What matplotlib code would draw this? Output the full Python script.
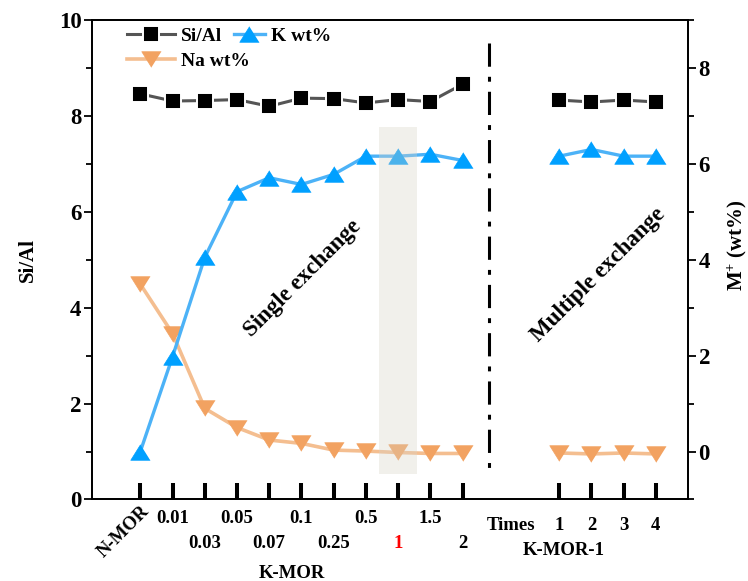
import numpy as np
import matplotlib
matplotlib.use('Agg')
import matplotlib.pyplot as plt
from matplotlib.patches import Rectangle
from matplotlib.ticker import MultipleLocator

# Si/Al ratio and cation loading of mordenite after K+ exchange.
single_labels = ['N-MOR', '0.01', '0.03', '0.05', '0.07', '0.1', '0.25', '0.5', '1', '1.5', '2']
multi_labels = ['1', '2', '3', '4']

si_al_single = [8.46, 8.31, 8.32, 8.34, 8.20, 8.37, 8.36, 8.27, 8.34, 8.30, 8.66]
si_al_multi = [8.33, 8.29, 8.33, 8.29]
k_single = [0.0, 1.98, 4.05, 5.42, 5.71, 5.57, 5.78, 6.16, 6.16, 6.20, 6.07]
k_multi = [6.16, 6.30, 6.16, 6.16]
na_single = [3.49, 2.46, 0.90, 0.50, 0.24, 0.17, 0.03, 0.01, -0.02, -0.04, -0.04]
na_multi = [-0.03, -0.05, -0.03, -0.05]

plt.rcParams['font.family'] = 'Liberation Serif'
plt.rcParams['font.weight'] = 'bold'
plt.rcParams['axes.labelweight'] = 'bold'
plt.rcParams['mathtext.fontset'] = 'custom'
plt.rcParams['mathtext.rm'] = 'Liberation Serif:bold'
plt.rcParams['mathtext.bf'] = 'Liberation Serif:bold'
plt.rcParams['mathtext.it'] = 'Liberation Serif:bold:italic'
plt.rcParams['axes.linewidth'] = 1.3

GRAY = '#555555'
BLUE = '#00a0ff'
BLUE_LINE = '#4cb2f7'
ORANGE = '#f2a261'
ORANGE_LINE = '#f4be90'
TRI_UP = [(0, 0.8), (-1, -0.8), (1, -0.8)]
TRI_DOWN = [(0, -0.8), (-1, 0.8), (1, 0.8)]

x_single = np.arange(len(single_labels))
x_multi = np.arange(len(multi_labels)) + 13

fig = plt.figure(figsize=(7.48, 5.81), dpi=100)
ax = fig.add_axes([0.123, 0.1403, 0.797, 0.8253])
ax2 = ax.twinx()

# Si/Al on the left axis
sq = dict(color=GRAY, lw=2.2, marker='s', ms=11.5, mfc='black', mec='white', mew=1.4)
h_si, = ax.plot(x_single, si_al_single, label='Si/Al', **sq)
ax.plot(x_multi, si_al_multi, **sq)

# K and Na content on the right axis
na = dict(color=ORANGE_LINE, lw=2.6, marker=TRI_DOWN, ms=14, mfc=ORANGE, mec=ORANGE, mew=0.5)
kk = dict(color=BLUE_LINE, lw=2.4, marker=TRI_UP, ms=14, mfc=BLUE, mec=BLUE, mew=0.5)
h_na, = ax2.plot(x_single, na_single, label='Na wt%', **na)
ax2.plot(x_multi, na_multi, **na)
h_k, = ax2.plot(x_single, k_single, label='K wt%', **kk)
ax2.plot(x_multi, k_multi, **kk)

# highlight the K-MOR-1 sample
ax2.add_patch(Rectangle((7.4, -0.47), 1.19, 7.24, facecolor='#d8d4c8', edgecolor='none',
                        alpha=0.35, zorder=5))

# separator between single and multiple exchange
ax.plot([10.82, 10.82], [9.51, 0.6], color='black', lw=2.2,
        linestyle=(0, (7.6, 3.3, 1.6, 3.3)))

ax.text(5.03, 4.61, 'Single exchange', rotation=45, ha='center', va='center', fontsize=16.5)
ax.text(14.21, 4.68, 'Multiple exchange', rotation=45, ha='center', va='center', fontsize=16.5)

ax.set_xlim(-1.5, 17)
ax.set_ylim(0, 10)
ax2.set_ylim(-1, 9)

ax.yaxis.set_major_locator(MultipleLocator(2))
ax.yaxis.set_minor_locator(MultipleLocator(1))
ax2.yaxis.set_major_locator(MultipleLocator(2))
ax2.yaxis.set_minor_locator(MultipleLocator(1))
ax2.set_yticks([0, 2, 4, 6, 8])

for a in (ax, ax2):
    a.tick_params(axis='y', which='major', direction='out', length=6, width=1.3,
                  labelsize=16.5, pad=1.5)
    a.tick_params(axis='y', which='minor', direction='out', length=4.5, width=1.3)

ax.set_xticks(np.concatenate([x_single, x_multi]))
ax.tick_params(axis='x', direction='in', length=11.5, width=2.9, labelbottom=False)

ax.set_ylabel('Si/Al', fontsize=15)
ax.yaxis.set_label_coords(-0.09, 0.5)
ax2.set_ylabel('M$^{+}$ (wt%)', fontsize=15)
ax2.yaxis.set_label_coords(1.063, 0.53)

# category labels below the axis, staggered on two rows
xt = ax.get_xaxis_transform()
for i, lab in enumerate(single_labels):
    if i == 0:
        ax.text(-0.53, -0.068, lab, transform=xt, rotation=45, ha='center', va='center',
                fontsize=13.5)
        continue
    y = -0.049 if i % 2 == 1 else -0.101
    color = 'red' if lab == '1' else 'black'
    ax.text(x_single[i], y, lab, transform=xt, ha='center', va='baseline',
            fontsize=13.5, color=color)
for i, lab in enumerate(multi_labels):
    ax.text(x_multi[i], -0.0646, lab, transform=xt, ha='center', va='baseline', fontsize=13.5)
ax.text(11.5, -0.0646, 'Times', transform=xt, ha='center', va='baseline', fontsize=13.5)
ax.text(4.69, -0.1637, 'K-MOR', transform=xt, ha='center', va='baseline', fontsize=13.5)
ax.text(13.13, -0.1157, 'K-MOR-1', transform=xt, ha='center', va='baseline', fontsize=13.5)

# legend: Si/Al and K on the first row, Na below
leg_kw = dict(loc='upper left', frameon=False, fontsize=14, handletextpad=0.3,
              borderpad=0, borderaxespad=0)
leg_si = ax2.legend(handles=[h_si], bbox_to_anchor=(0.058, 0.985), handlelength=2.5, **leg_kw)
ax2.add_artist(leg_si)
leg_k = ax2.legend(handles=[h_k], bbox_to_anchor=(0.238, 0.985), handlelength=1.6, **leg_kw)
ax2.add_artist(leg_k)
ax2.legend(handles=[h_na], bbox_to_anchor=(0.058, 0.933), handlelength=2.5, **leg_kw)

fig.savefig('out.png', dpi=100)
